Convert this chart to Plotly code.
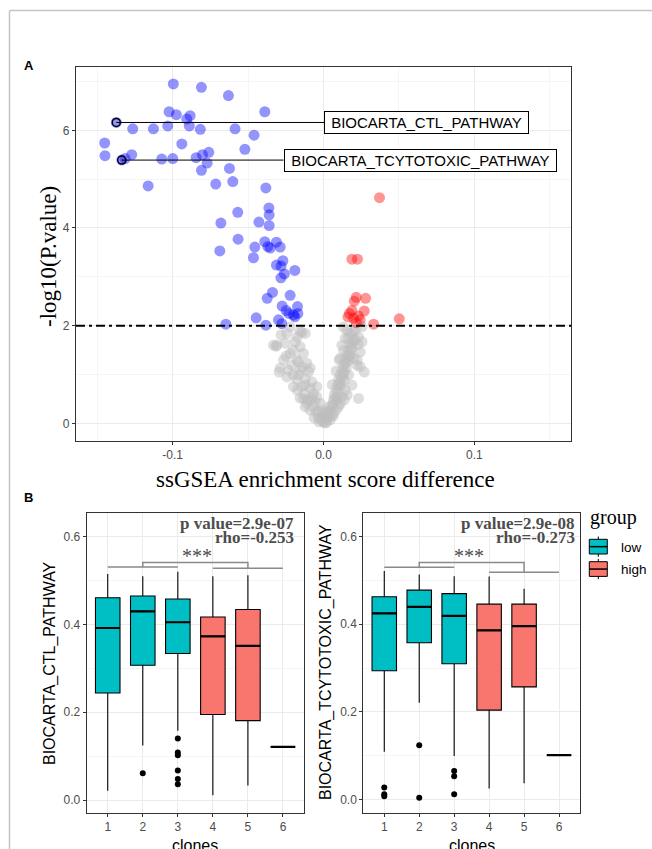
import plotly.graph_objects as go

W, H = 652, 849

# ---------------- volcano data ----------------
blue_x = [-0.0995, -0.0809, -0.0630, -0.0389, -0.1023, -0.0975, -0.0884, -0.0906, -0.0889, -0.1032,
          -0.0816, -0.0586, -0.0460, -0.1127, -0.1264, -0.1373, -0.1450, -0.1448, -0.1271, -0.1315,
          -0.1337, -0.1072, -0.0999, -0.0939, -0.0844, -0.0802, -0.0760, -0.0771, -0.0809, -0.0521,
          -0.0623, -0.0601, -0.0714, -0.1162, -0.0382, -0.0362, -0.0360, -0.0360, -0.0428, -0.0568,
          -0.0680, -0.0566, -0.0687, -0.0455, -0.0464, -0.0389, -0.0369, -0.0353, -0.0312, -0.0287,
          -0.0269, -0.0281, -0.0312, -0.0259, -0.0282, -0.0190, -0.0338, -0.0373, -0.0221, -0.0274,
          -0.0172, -0.0247, -0.0229, -0.0199, -0.0170, -0.0190, -0.0446, -0.0298, -0.0276, -0.0382,
          -0.0647]
blue_y = [6.95, 6.88, 6.71, 6.38, 6.38, 6.32, 6.30, 6.23, 6.09, 6.09,
          6.02, 6.03, 5.90, 6.03, 6.03, 6.16, 5.74, 5.48, 5.50, 5.42,
          5.39, 5.41, 5.42, 5.72, 5.44, 5.50, 5.55, 5.33, 5.18, 5.61,
          5.22, 4.95, 4.90, 4.86, 4.82, 4.41, 4.27, 4.05, 4.12, 4.32,
          4.10, 3.77, 3.53, 3.61, 3.39, 3.72, 3.62, 3.59, 3.71, 3.61,
          3.33, 3.22, 3.24, 3.06, 2.98, 3.13, 2.68, 2.56, 2.62, 2.40,
          2.39, 2.31, 2.25, 2.22, 2.25, 2.18, 2.16, 2.12, 2.04, 2.01,
          2.03]
red_x = [0.0371, 0.0188, 0.0225, 0.0217, 0.0279, 0.0204, 0.0188, 0.0270, 0.0162, 0.0199,
         0.0232, 0.0217, 0.0332, 0.0502, 0.0172, 0.0243]
red_y = [4.62, 3.36, 3.36, 2.58, 2.56, 2.50, 2.31, 2.30, 2.18, 2.15,
         2.20, 2.06, 2.03, 2.14, 2.25, 2.12]
gray_x = [-0.0243, -0.0155, -0.0121, -0.0309, -0.0254, -0.0188, -0.0155, -0.0221, -0.0133, -0.0265,
          -0.0176, -0.0110, -0.0287, -0.0232, -0.0155, -0.0088, -0.0243, -0.0176, -0.0121, -0.0077,
          -0.0199, -0.0143, -0.0088, -0.0044, -0.0133, -0.0088, -0.0044, -0.0022, -0.0066, -0.0033,
          -0.0011, 0.0000, 0.0007, -0.0099, -0.0210, -0.0166, -0.0066, -0.0110, -0.0055, -0.0332,
          -0.0143, -0.0314,
          0.0023, 0.0033, 0.0044, 0.0056, 0.0066, 0.0071, 0.0084, 0.0093, 0.0099, 0.0111,
          0.0122, 0.0133, 0.0144, 0.0155, 0.0133, 0.0166, 0.0122, 0.0177, 0.0144, 0.0199,
          0.0177, 0.0232, 0.0255, 0.0111, 0.0199, 0.0221, 0.0243, 0.0166, 0.0188, 0.0232,
          0.0089, 0.0099, 0.0066, 0.0144, 0.0122, 0.0044, 0.0155, 0.0210, 0.0255, -0.0015,
          -0.0035, 0.0025, 0.0011, -0.0009, 0.0038, 0.0078, 0.0104, 0.0124, 0.0137, 0.0157,
          0.0170, 0.0190, 0.0104, 0.0084, 0.0058, 0.0131,
          -0.0155, -0.0128, -0.0108, -0.0075, -0.0121, -0.0088, -0.0048, -0.0062, -0.0029, 0.0018,
          0.0044, 0.0064, 0.0084, 0.0064, 0.0038, 0.0018, 0.0111, 0.0091, 0.0097, 0.0117,
          0.0137, 0.0111, 0.0131, 0.0151, 0.0144, 0.0164, 0.0177, 0.0184, 0.0190, 0.0210,
          0.0164, 0.0197, 0.0230, 0.0243, 0.0223, 0.0270, 0.0157, 0.0137, -0.0281, -0.0221,
          -0.0174, -0.0247, -0.0201, -0.0294, -0.0168, -0.0141, -0.0201, -0.0121, -0.0174]
gray_y = [1.84, 1.88, 1.84, 1.60, 1.64, 1.67, 1.57, 1.43, 1.43, 1.30,
          1.30, 1.23, 1.13, 1.09, 1.09, 1.13, 0.95, 0.89, 0.92, 0.85,
          0.75, 0.75, 0.72, 0.75, 0.51, 0.48, 0.54, 0.41, 0.34, 0.24,
          0.14, 0.03, 0.01, 1.06, 1.19, 0.99, 0.61, 0.41, 0.44, 1.60,
          1.86, 1.58,
          0.07, 0.17, 0.27, 0.37, 0.48, 0.58, 0.68, 0.78, 0.89, 0.99,
          1.09, 1.19, 1.30, 1.40, 1.50, 1.50, 1.60, 1.64, 1.74, 1.71,
          1.84, 1.77, 1.67, 1.33, 1.33, 1.19, 1.16, 0.99, 0.78, 0.51,
          0.48, 0.34, 0.20, 0.68, 0.54, 0.14, 1.91, 1.91, 1.98, 0.07,
          0.11, 0.11, 0.21, 0.27, 0.23, 0.52, 0.77, 0.93, 1.05, 1.26,
          1.38, 1.56, 1.30, 1.07, 0.79, 1.97,
          0.52, 0.60, 0.48, 0.54, 0.34, 0.27, 0.23, 0.11, 0.03, 0.01,
          0.07, 0.15, 0.27, 0.37, 0.34, 0.23, 0.40, 0.54, 0.64, 0.77,
          0.89, 0.85, 1.01, 1.13, 1.22, 1.30, 1.40, 1.50, 1.63, 1.71,
          1.75, 1.87, 1.61, 1.46, 1.30, 1.05, 0.58, 0.48, 1.81, 1.97,
          1.77, 1.38, 1.50, 1.05, 1.26, 1.15, 0.99, 0.78, 0.68]
label_text = ["BIOCARTA_CTL_PATHWAY", "BIOCARTA_TCYTOTOXIC_PATHWAY"]
label_pt_x = [-0.1373, -0.1337]
label_pt_y = [6.16, 5.39]
label_box_x = [0.0005, -0.0265]
p_cut = 2.0

# ---------------- boxplot data ----------------
clones = [1, 2, 3, 4, 5, 6]
low_idx = [0, 1, 2]
high_idx = [3, 4, 5]
ctl_q1 = [0.244, 0.307, 0.334, 0.195, 0.181, 0.121]
ctl_med = [0.392, 0.430, 0.405, 0.373, 0.351, 0.121]
ctl_q3 = [0.461, 0.465, 0.458, 0.417, 0.434, 0.121]
ctl_lo = [0.021, 0.124, 0.158, 0.011, 0.033, 0.121]
ctl_hi = [0.515, 0.510, 0.520, 0.510, 0.512, 0.121]
ctl_out_x = [2, 3, 3, 3, 3, 3, 3]
ctl_out_y = [0.061, 0.140, 0.108, 0.102, 0.067, 0.048, 0.036]
tc_q1 = [0.294, 0.358, 0.310, 0.204, 0.257, 0.101]
tc_med = [0.425, 0.440, 0.419, 0.386, 0.396, 0.101]
tc_q3 = [0.463, 0.478, 0.470, 0.446, 0.446, 0.101]
tc_lo = [0.109, 0.221, 0.099, 0.025, 0.037, 0.101]
tc_hi = [0.522, 0.514, 0.510, 0.509, 0.481, 0.101]
tc_out_x = [1, 1, 1, 2, 2, 3, 3, 3]
tc_out_y = [0.027, 0.012, 0.007, 0.124, 0.004, 0.065, 0.053, 0.012]
ctl_stats = ["p value=2.9e-07", "rho=-0.253"]
tc_stats = ["p value=2.9e-08", "rho=-0.273"]
ctl_bracket = [0.531, 0.528, 0.541]   # low-group line, high-group line, connector
tc_bracket = [0.530, 0.519, 0.541]
ctl_star_x = 3.55
tc_star_x = 3.43
star_y = 0.562
group_names = ["low", "high"]
group_colors = ["#00BFC4", "#F8766D"]

SERIF = "Liberation Serif, Times New Roman, serif"
SANS = "Liberation Sans, Arial, sans-serif"
TICKC = "#4D4D4D"
GRID = "#EBEBEB"
MINOR = "#F5F5F5"


def PX(x):
    return x / W


def PY(y):
    return 1 - y / H


fig = go.Figure()

# volcano
fig.add_trace(go.Scatter(x=gray_x, y=gray_y, mode="markers",
                         marker=dict(size=11, color="rgba(190,190,190,0.5)", line=dict(width=0)),
                         xaxis="x", yaxis="y", showlegend=False, hoverinfo="skip"))
fig.add_trace(go.Scatter(x=blue_x, y=blue_y, mode="markers",
                         marker=dict(size=11, color="rgba(0,0,255,0.42)", line=dict(width=0)),
                         xaxis="x", yaxis="y", showlegend=False))
fig.add_trace(go.Scatter(x=red_x, y=red_y, mode="markers",
                         marker=dict(size=11, color="rgba(255,0,0,0.42)", line=dict(width=0)),
                         xaxis="x", yaxis="y", showlegend=False))
fig.add_trace(go.Scatter(x=label_pt_x, y=label_pt_y, mode="markers",
                         marker=dict(size=8, symbol="circle-open", color="black", line=dict(width=1.5)),
                         xaxis="x", yaxis="y", showlegend=False))

shapes = []
annotations = []

shapes.append(dict(type="line", xref="x domain", yref="y", x0=0, x1=1, y0=p_cut, y1=p_cut,
                   line=dict(color="black", width=2, dash="9px,4px,3px,4px")))
for t, px_, py_, bx in zip(label_text, label_pt_x, label_pt_y, label_box_x):
    shapes.append(dict(type="line", xref="x", yref="y", x0=px_, x1=bx, y0=py_, y1=py_,
                       line=dict(color="black", width=1)))
    annotations.append(dict(xref="x", yref="y", x=bx, y=py_, xanchor="left", yanchor="middle",
                            text="\u00a0" + t + "\u00a0", showarrow=False,
                            font=dict(family=SANS, size=15, color="black"),
                            bgcolor="white", bordercolor="black", borderwidth=1, borderpad=2))

# boxplots
panels = [
    ("x2", "y2", ctl_q1, ctl_med, ctl_q3, ctl_lo, ctl_hi, ctl_out_x, ctl_out_y, ctl_bracket),
    ("x3", "y3", tc_q1, tc_med, tc_q3, tc_lo, tc_hi, tc_out_x, tc_out_y, tc_bracket),
]
BW = 0.7
for xa, ya, q1, med, q3, lo, hi, ox, oy, br in panels:
    for idx, col in zip([low_idx, high_idx], group_colors):
        fig.add_trace(go.Box(x=[clones[i] for i in idx], q1=[q1[i] for i in idx],
                             median=[med[i] for i in idx], q3=[q3[i] for i in idx],
                             lowerfence=[lo[i] for i in idx], upperfence=[hi[i] for i in idx],
                             width=BW, fillcolor=col, line=dict(color="black", width=1.1),
                             boxpoints=False, whiskerwidth=0, xaxis=xa, yaxis=ya, showlegend=False))
    mx, my = [], []
    for c, m in zip(clones, med):
        mx += [c - BW / 2, c + BW / 2, None]
        my += [m, m, None]
    fig.add_trace(go.Scatter(x=mx, y=my, mode="lines", line=dict(color="black", width=2.2),
                             xaxis=xa, yaxis=ya, showlegend=False, hoverinfo="skip"))
    fig.add_trace(go.Scatter(x=ox, y=oy, mode="markers", marker=dict(size=6, color="black"),
                             xaxis=xa, yaxis=ya, showlegend=False))
    lo_c = sum(clones[i] for i in low_idx) / 3
    hi_c = sum(clones[i] for i in high_idx) / 3
    bx = [clones[low_idx[0]], clones[low_idx[-1]], None, clones[high_idx[0]], clones[high_idx[-1]], None,
          lo_c, lo_c, hi_c, hi_c]
    byy = [br[0], br[0], None, br[1], br[1], None, br[0], br[2], br[2], br[1]]
    fig.add_trace(go.Scatter(x=bx, y=byy, mode="lines", line=dict(color="#8A8A8A", width=1.5),
                             xaxis=xa, yaxis=ya, showlegend=False, hoverinfo="skip"))

# stats text
for xr, st, sx in [(296, ctl_stats, ctl_star_x), (576.7, tc_stats, tc_star_x)]:
    annotations.append(dict(xref="paper", yref="paper", x=PX(xr), y=PY(523.6), xanchor="right",
                            yanchor="middle", text="<b>%s</b>" % st[0], showarrow=False,
                            font=dict(family=SERIF, size=17, color="#4D4D4D")))
    annotations.append(dict(xref="paper", yref="paper", x=PX(xr), y=PY(537.6), xanchor="right",
                            yanchor="middle", text="<b>%s</b>" % st[1], showarrow=False,
                            font=dict(family=SERIF, size=17, color="#4D4D4D")))
annotations.append(dict(xref="x2", yref="y2", x=ctl_star_x, y=star_y, xanchor="center", yanchor="middle",
                        text="***", showarrow=False, font=dict(family=SERIF, size=20, color="#4D4D4D"),
                        yshift=-3))
annotations.append(dict(xref="x3", yref="y3", x=tc_star_x, y=star_y, xanchor="center", yanchor="middle",
                        text="***", showarrow=False, font=dict(family=SERIF, size=20, color="#4D4D4D"),
                        yshift=-3))


# axis titles and panel labels
def txt(x, y, s, fam, size, color="black", angle=0, anchor="center"):
    annotations.append(dict(xref="paper", yref="paper", x=PX(x), y=PY(y), xanchor=anchor,
                            yanchor="middle", text=s, showarrow=False, textangle=angle,
                            font=dict(family=fam, size=size, color=color)))


txt(28.5, 65.3, "<b>A</b>", SANS, 13)
txt(28, 498, "<b>B</b>", SANS, 13)
txt(49, 257, "-log10(P.value)", SERIF, 23, angle=-90)
txt(325, 479.6, "ssGSEA enrichment score difference", SERIF, 23)
txt(50, 663, "BIOCARTA_CTL_PATHWAY", SANS, 16, angle=-90)
txt(326, 662, "BIOCARTA_TCYTOTOXIC_PATHWAY", SANS, 16, angle=-90)
txt(195.3, 845, "clones", SANS, 16)
txt(471.7, 845, "clones", SANS, 16)

# legend
txt(588.3, 517.5, "group", SERIF, 20, anchor="left")
for k, (name, col) in enumerate(zip(group_names, group_colors)):
    top = 539.3 + k * 22.4
    bot = top + 14.7
    mid = (top + bot) / 2
    shapes.append(dict(type="line", xref="paper", yref="paper", x0=PX(598.3), x1=PX(598.3),
                       y0=PY(top - 2.8), y1=PY(bot + 2.8), line=dict(color="black", width=1)))
    shapes.append(dict(type="rect", xref="paper", yref="paper", x0=PX(589.3), x1=PX(607.3),
                       y0=PY(bot), y1=PY(top), fillcolor=col, line=dict(color="black", width=1)))
    shapes.append(dict(type="line", xref="paper", yref="paper", x0=PX(589.3), x1=PX(607.3),
                       y0=PY(mid), y1=PY(mid), line=dict(color="black", width=1.5)))
    txt(619.3, mid + 0.5, name, SANS, 13.5, anchor="left")

# outer frame
shapes.append(dict(type="line", xref="paper", yref="paper", x0=PX(9.5), x1=PX(652), y0=PY(10.5), y1=PY(10.5),
                   line=dict(color="#C4C4C4", width=1.5)))
shapes.append(dict(type="line", xref="paper", yref="paper", x0=PX(9.5), x1=PX(9.5), y0=PY(10.5), y1=PY(849),
                   line=dict(color="#C4C4C4", width=1.5)))

axis_common = dict(showline=True, mirror=True, linecolor="#333333", linewidth=1.1,
                   ticks="outside", ticklen=3, tickcolor="#333333", tickwidth=1,
                   gridcolor=GRID, gridwidth=1, zeroline=False,
                   tickfont=dict(family=SANS, size=12, color=TICKC))

fig.update_layout(
    width=W, height=H, margin=dict(l=0, r=0, t=0, b=0),
    paper_bgcolor="white", plot_bgcolor="white",
    boxmode="overlay", shapes=shapes, annotations=annotations, showlegend=False,
    xaxis=dict(domain=[PX(76), PX(571)], range=[-0.164, 0.164], anchor="y",
               tickvals=[-0.1, 0.0, 0.1], ticktext=["-0.1", "0.0", "0.1"],
               minor=dict(tickvals=[-0.15, -0.05, 0.05, 0.15], showgrid=True, gridcolor=MINOR, gridwidth=1),
               **axis_common),
    yaxis=dict(domain=[PY(440.7), PY(67.3)], range=[-0.356, 7.29], anchor="x",
               tickvals=[0, 2, 4, 6],
               minor=dict(tickvals=[1, 3, 5, 7], showgrid=True, gridcolor=MINOR, gridwidth=1),
               **axis_common),
    xaxis2=dict(domain=[PX(86.7), PX(304)], range=[0.4, 6.6], anchor="y2",
                tickvals=clones, ticktext=[str(c) for c in clones], **axis_common),
    yaxis2=dict(domain=[PY(813), PY(513.3)], range=[-0.0296, 0.6533], anchor="x2",
                tickvals=[0, 0.2, 0.4, 0.6], ticktext=["0.0", "0.2", "0.4", "0.6"],
                minor=dict(tickvals=[0.1, 0.3, 0.5], showgrid=True, gridcolor=MINOR, gridwidth=1),
                **axis_common),
    xaxis3=dict(domain=[PX(363.3), PX(580)], range=[0.4, 6.6], anchor="y3",
                tickvals=clones, ticktext=[str(c) for c in clones], **axis_common),
    yaxis3=dict(domain=[PY(813), PY(513.3)], range=[-0.031, 0.6535], anchor="x3",
                tickvals=[0, 0.2, 0.4, 0.6], ticktext=["0.0", "0.2", "0.4", "0.6"],
                minor=dict(tickvals=[0.1, 0.3, 0.5], showgrid=True, gridcolor=MINOR, gridwidth=1),
                **axis_common),
)

fig.write_html("out.html", config={"displayModeBar": False},
               post_script="document.body.style.margin='0px';")
